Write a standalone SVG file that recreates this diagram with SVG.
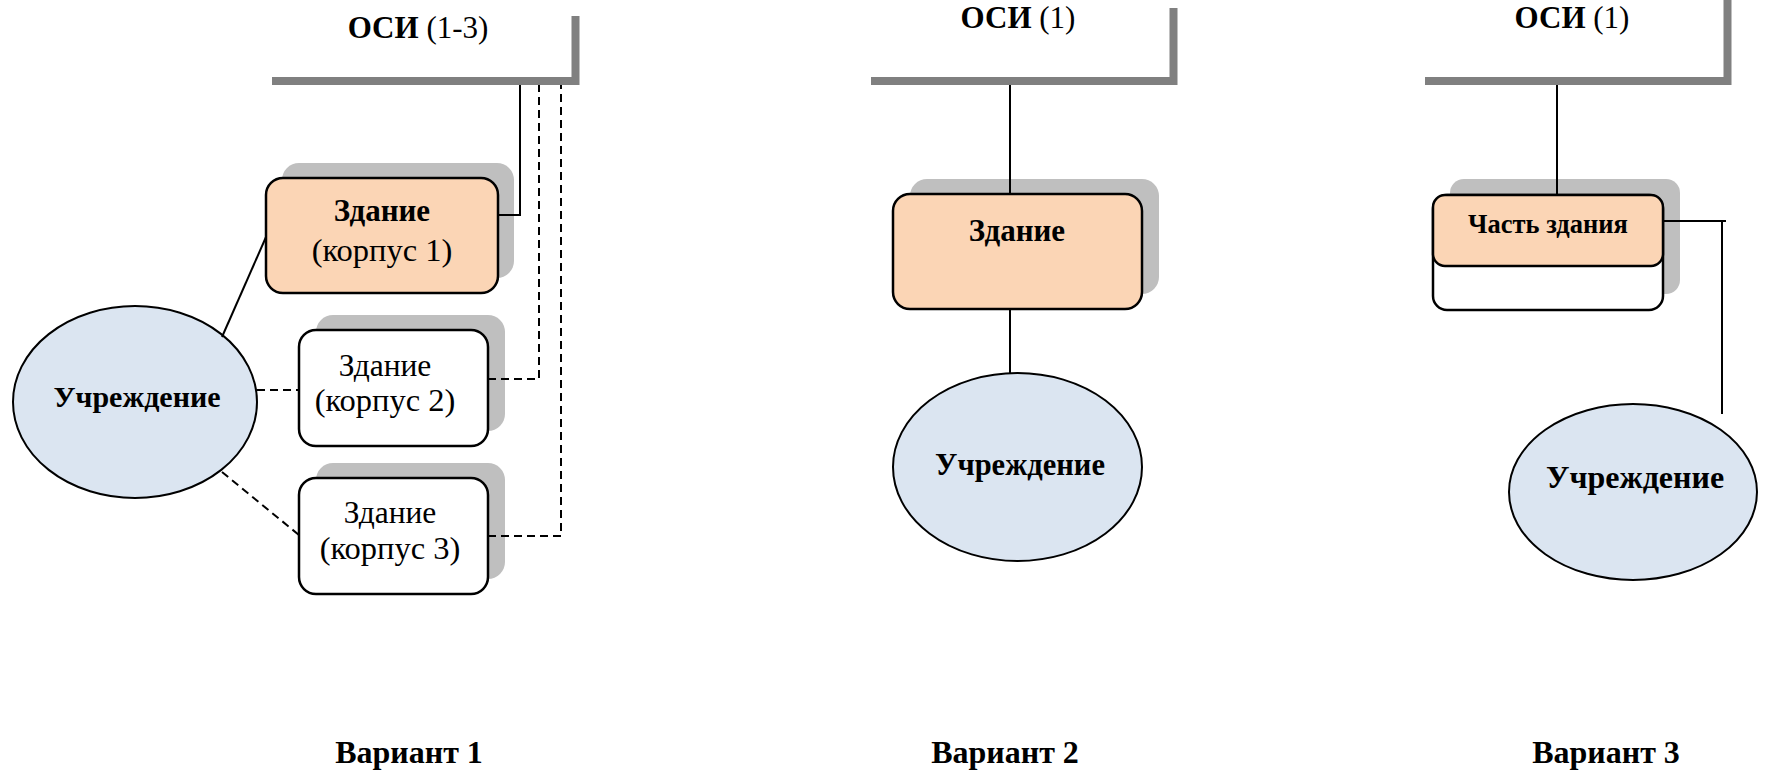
<svg xmlns="http://www.w3.org/2000/svg" width="1768" height="775" viewBox="0 0 1768 775">
<style>
text{font-family:"Liberation Serif","Times New Roman",serif;fill:#000;text-anchor:middle}
.b{font-weight:bold}
.shadow{fill:#bfbfbf;stroke:none}
.orange{fill:#fbd5b5;stroke:#000;stroke-width:2.5}
.white{fill:#fff;stroke:#000;stroke-width:2.5}
.ell{fill:#dbe5f1;stroke:#000;stroke-width:2}
.bar{fill:none;stroke:#808080;stroke-width:8;stroke-linejoin:miter}
.ln{fill:none;stroke:#000;stroke-width:2}
.dash{fill:none;stroke:#000;stroke-width:2;stroke-dasharray:8,5}
</style>
<rect width="1768" height="775" fill="#fff"/>

<g id="osi1">
  <polyline class="bar" points="272,81 575.5,81 575.5,16"/>
  <text x="418" y="38" font-size="31"><tspan class="b">ОСИ</tspan> (1-3)</text>
</g>
<g id="osi2">
  <polyline class="bar" points="871,81 1173.5,81 1173.5,8"/>
  <text x="1018" y="28" font-size="31"><tspan class="b">ОСИ</tspan> (1)</text>
</g>
<g id="osi3">
  <polyline class="bar" points="1425,81 1727.5,81 1727.5,0"/>
  <text x="1572" y="28" font-size="31"><tspan class="b">ОСИ</tspan> (1)</text>
</g>

<g id="building1">
  <rect class="shadow" x="282" y="163" width="232" height="115" rx="17"/>
  <rect class="orange" x="266" y="178" width="232" height="115" rx="17"/>
  <text x="382" y="221" font-size="31" class="b">Здание</text>
  <text x="382" y="261" font-size="32.5">(корпус 1)</text>
</g>
<g id="building2">
  <rect class="shadow" x="316" y="315" width="189" height="116" rx="17"/>
  <rect class="white" x="299" y="330" width="189" height="116" rx="17"/>
  <text x="385" y="376" font-size="31.5">Здание</text>
  <text x="385" y="411" font-size="32.5">(корпус 2)</text>
</g>
<g id="building3">
  <rect class="shadow" x="316" y="463" width="189" height="116" rx="17"/>
  <rect class="white" x="299" y="478" width="189" height="116" rx="17"/>
  <text x="390" y="523" font-size="31.5">Здание</text>
  <text x="390" y="559" font-size="32.5">(корпус 3)</text>
</g>
<g id="institution1">
  <ellipse class="ell" cx="135" cy="402" rx="122" ry="96"/>
  <text x="137" y="407" font-size="30" class="b">Учреждение</text>
</g>

<g id="building-v2">
  <rect class="shadow" x="910" y="179" width="249" height="115" rx="17"/>
  <rect class="orange" x="893" y="194" width="249" height="115" rx="17"/>
  <text x="1017" y="241" font-size="31" class="b">Здание</text>
</g>
<g id="institution2">
  <ellipse class="ell" cx="1017.5" cy="467" rx="124.5" ry="94"/>
  <text x="1020" y="475" font-size="30.5" class="b">Учреждение</text>
</g>

<g id="part-v3">
  <rect class="shadow" x="1450" y="179" width="230" height="115" rx="14"/>
  <rect class="white" x="1433" y="195" width="230" height="115" rx="14"/>
  <rect class="orange" x="1433" y="195" width="230" height="71" rx="12"/>
  <text x="1548" y="233" font-size="26.5" class="b">Часть здания</text>
</g>
<g id="institution3">
  <ellipse class="ell" cx="1633" cy="492" rx="124" ry="88"/>
  <text x="1635" y="488" font-size="32" class="b">Учреждение</text>
</g>

<g id="connectors">
  <path class="ln" d="M498,215 H520 V85"/>
  <path class="dash" d="M488,379 H539 V85"/>
  <path class="dash" d="M488,536 H561 V85"/>
  <path class="ln" d="M222,337 L266,237"/>
  <path class="dash" d="M257,390 H299"/>
  <path class="dash" d="M222,472 L299,535"/>
  <path class="ln" d="M1010,85 V194"/>
  <path class="ln" d="M1010,309 V373"/>
  <path class="ln" d="M1557,85 V195"/>
  <path class="ln" d="M1663,221 H1726 M1722,221 V414"/>
</g>

<g id="labels">
  <text x="409" y="763" font-size="32" class="b">Вариант 1</text>
  <text x="1005" y="763" font-size="32" class="b">Вариант 2</text>
  <text x="1606" y="763" font-size="32" class="b">Вариант 3</text>
</g>
</svg>
